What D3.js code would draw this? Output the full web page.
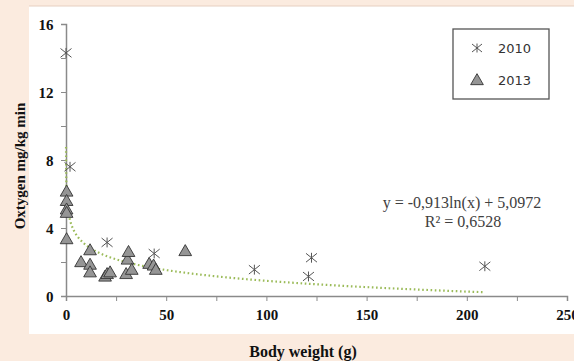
<!DOCTYPE html>
<html>
<head>
<meta charset="utf-8">
<script src="https://cdn.jsdelivr.net/npm/d3@7"></script>
<style>
  body { margin: 0; background: #fbebdf; }
  svg { display: block; }
</style>
</head>
<body>
<div id="dataviz"></div>
<script>
// data
const weight2010 = [0, 2, 20.5, 44, 94, 122.5, 121, 209];
const oxygen2010 = [14.3, 7.6, 3.15, 2.5, 1.55, 2.25, 1.15, 1.75];

const weight2013 = [0.3, 0.3, 0.3, 0.3, 0.3, 7.5, 12, 12, 12, 19.5, 20.5, 22, 30, 30.7, 31.2, 32.8, 41.5, 43.7, 44.8, 59.5];
const oxygen2013 = [6.15, 5.6, 5.1, 4.9, 3.35, 2.0, 2.7, 1.85, 1.4, 1.15, 1.3, 1.4, 1.3, 2.15, 2.6, 1.55, 1.9, 1.8, 1.55, 2.65];

const seriesNames = ["2010", "2013"];
const xTicks = [0, 50, 100, 150, 200, 250];
const yTicks = [0, 4, 8, 12, 16];
const fitA = -0.913, fitB = 5.0972;
const eqText = "y = -0,913ln(x) + 5,0972";
const r2Text = "R² = 0,6528";

const W = 574, H = 361;
const margin = {top: 24, right: 7, bottom: 65, left: 66};
const width = W - margin.left - margin.right,
    height = H - margin.top - margin.bottom;

const root = d3.select("#dataviz").append("svg")
    .attr("width", W).attr("height", H);

// white plot panel
root.append("rect")
    .attr("x", 29).attr("y", 6).attr("width", W - 29).attr("height", 328)
    .attr("fill", "#fff");
root.append("line").attr("x1", 29).attr("x2", W).attr("y1", 6).attr("y2", 6)
    .attr("stroke", "#e6cfc0");

const svg = root.append("g")
    .attr("transform", `translate(${margin.left}, ${margin.top})`);

const x = d3.scaleLinear().domain([0, 250]).range([0, 501]);
const y = d3.scaleLinear().domain([0, 16]).range([height + 0, 0]);

const serif = "'Liberation Serif', 'Times New Roman', serif";
const axisColor = "#8a8a8a";

// x axis
const xAxis = svg.append("g")
    .attr("transform", `translate(0, ${height})`)
    .call(d3.axisBottom(x).tickValues(d3.range(0, 251, 25)).tickSize(5)
        .tickFormat(d => xTicks.includes(d) ? d : ""));
// y axis
const yAxis = svg.append("g")
    .call(d3.axisLeft(y).tickValues(d3.range(0, 17, 2)).tickSize(5)
        .tickFormat(d => yTicks.includes(d) ? d : ""));

[xAxis, yAxis].forEach(a => {
  a.select(".domain").attr("stroke", axisColor).attr("stroke-width", 1.5);
  a.selectAll(".tick line").attr("stroke", axisColor).attr("stroke-width", 1);
  a.selectAll("text").attr("fill", "#111").attr("font-family", serif)
      .attr("font-weight", "bold").attr("font-size", 15);
});
xAxis.selectAll("text").attr("dy", "1.05em");
yAxis.selectAll("text").attr("dx", "-0.3em").attr("dy", "0.35em");

// trend line
const fitX = d3.range(Math.log(0.018), Math.log(209), 0.02).map(Math.exp).concat([209]);
svg.append("path")
    .datum(fitX)
    .attr("fill", "none")
    .attr("stroke", "#9bbb59")
    .attr("stroke-width", 2.2)
    .attr("stroke-dasharray", "1.6 2.6")
    .attr("d", d3.line().x(d => x(d)).y(d => y(fitA * Math.log(d) + fitB)));

// asterisk marker
function star(g, cx, cy, r) {
  const s = g.append("g").attr("transform", `translate(${cx},${cy})`)
      .attr("stroke", "#555").attr("stroke-width", 1).attr("fill", "none");
  s.append("line").attr("x1", -r).attr("y1", -r * 0.8).attr("x2", r).attr("y2", r * 0.8);
  s.append("line").attr("x1", -r).attr("y1", r * 0.8).attr("x2", r).attr("y2", -r * 0.8);
  s.append("line").attr("x1", 0).attr("y1", -r * 0.9).attr("x2", 0).attr("y2", r * 0.9);
}
const tri = d3.symbol().type(d3.symbolTriangle).size(70);

// 2013 triangles
svg.append("g").selectAll("path")
    .data(weight2013.map((w, i) => [w, oxygen2013[i]]))
    .join("path")
    .attr("d", tri)
    .attr("transform", d => `translate(${x(d[0])},${y(d[1]) + 1})`)
    .attr("fill", "#959595").attr("stroke", "#333").attr("stroke-width", 0.9);

// 2010 stars
const starG = svg.append("g");
weight2010.forEach((w, i) => star(starG, x(w), y(oxygen2010[i]), 5.5));

// equation
const eq = svg.append("g").attr("font-family", serif).attr("font-size", 16)
    .attr("fill", "#404040").attr("text-anchor", "middle");
eq.append("text").attr("x", 396).attr("y", 184).text(eqText);
eq.append("text").attr("x", 397).attr("y", 203).text(r2Text);

// legend
const lg = root.append("g").attr("transform", "translate(453, 29)");
lg.append("rect").attr("width", 96).attr("height", 70)
    .attr("fill", "#fff").attr("stroke", "#555").attr("stroke-width", 1.3);
star(lg, 24, 19, 5);
lg.append("path").attr("d", tri).attr("transform", "translate(24, 52)")
    .attr("fill", "#959595").attr("stroke", "#333").attr("stroke-width", 0.9);
lg.selectAll("text.lab").data(seriesNames).join("text")
    .attr("x", 45).attr("y", (d, i) => 24 + i * 32)
    .attr("font-family", "'DejaVu Sans', sans-serif").attr("font-size", 13)
    .attr("fill", "#333").text(d => d);

// axis titles
root.append("text").attr("x", 303).attr("y", 357).attr("text-anchor", "middle")
    .attr("font-family", serif).attr("font-weight", "bold").attr("font-size", 16)
    .attr("fill", "#111").text("Body weight (g)");
root.append("text")
    .attr("transform", "translate(25, 166) rotate(-90)")
    .attr("text-anchor", "middle")
    .attr("font-family", serif).attr("font-weight", "bold").attr("font-size", 15)
    .attr("fill", "#111").text("Oxtygen mg/kg min");
</script>
</body>
</html>
